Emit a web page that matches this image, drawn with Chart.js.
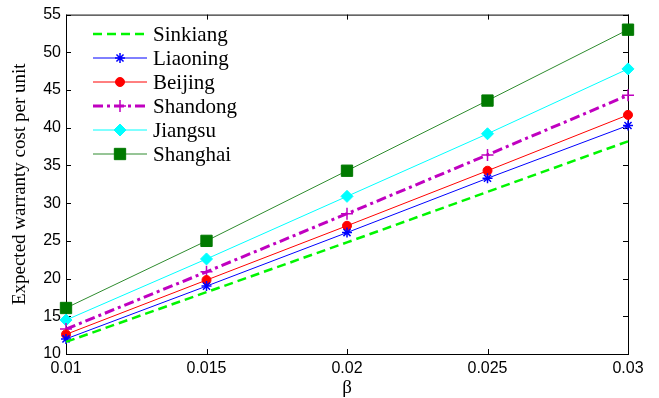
<!DOCTYPE html>
<html>
<head>
<meta charset="utf-8">
<script src="https://cdn.jsdelivr.net/npm/chart.js@4/dist/chart.umd.min.js"></script>
<style>
  body { margin: 0; background: #fff; }
  canvas { display: block; }
</style>
</head>
<body>
<canvas id="chart" width="659" height="398"></canvas>
<script>
const beta = [0.01, 0.015, 0.02, 0.025, 0.03];
const xTicks = [0.01, 0.015, 0.02, 0.025, 0.03];
const yTicks = [10, 15, 20, 25, 30, 35, 40, 45, 50, 55];

const sinkiang = [11.6, 18.2, 24.8, 31.5, 38.2];
const liaoning = [12.0, 19.0, 26.1, 33.3, 40.3];
const beijing  = [12.6, 19.8, 27.0, 34.3, 41.7];
const shandong = [13.3, 20.9, 28.6, 36.4, 44.3];
const jiangsu  = [14.5, 22.6, 30.9, 39.2, 47.8];
const shanghai = [16.1, 25.0, 34.3, 43.6, 53.0];

const serif = '"Liberation Serif", "Times New Roman", serif';
const sans = '"Liberation Sans", Arial, sans-serif';

const toPoints = arr => arr.map((v, i) => ({ x: beta[i], y: v }));

const series = [
    { label: 'Sinkiang', data: sinkiang, color: '#00f500', width: 2.5, dash: [9, 5], style: false, radius: 0, pointColor: '#00f500' },
    { label: 'Liaoning', data: liaoning, color: '#0000ff', width: 1, dash: [], style: 'star', radius: 5, pointColor: '#0000ff' },
    { label: 'Beijing', data: beijing, color: '#ff0000', width: 1, dash: [], style: 'circle', radius: 4.5, pointColor: '#ff0000' },
    { label: 'Shandong', data: shandong, color: '#c000c0', width: 3, dash: [10, 4, 3, 4], style: 'cross', radius: 6, pointColor: '#c000c0' },
    { label: 'Jiangsu', data: jiangsu, color: '#00ffff', width: 1, dash: [], style: 'rectRot', radius: 6, pointColor: '#00ffff' },
    { label: 'Shanghai', data: shanghai, color: '#2e8b2e', width: 1, dash: [], style: 'rect', radius: 8, pointColor: '#007a00' },
];

const datasets = series.map(s => ({
    label: s.label,
    data: toPoints(s.data),
    borderColor: s.color,
    borderWidth: s.width,
    borderDash: s.dash,
    pointStyle: s.style,
    pointRadius: s.radius,
    pointBackgroundColor: s.pointColor,
    pointBorderColor: s.pointColor,
    pointBorderWidth: s.style === 'cross' || s.style === 'star' ? 1.5 : 1,
    tension: 0,
    fill: false,
    clip: false,
}));

// MATLAB-like box with inward ticks
const framePlugin = {
    id: 'frame',
    beforeDatasetsDraw(chart) {
        const { ctx, chartArea: a, scales } = chart;
        ctx.save();
        ctx.strokeStyle = '#000';
        ctx.lineWidth = 1;
        ctx.strokeRect(a.left + 0.5, a.top + 0.5, a.right - a.left, a.bottom - a.top);
        ctx.beginPath();
        yTicks.forEach(v => {
            const y = Math.round(scales.y.getPixelForValue(v)) + 0.5;
            ctx.moveTo(a.left, y); ctx.lineTo(a.left + 5, y);
            ctx.moveTo(a.right, y); ctx.lineTo(a.right - 5, y);
        });
        xTicks.forEach(v => {
            const x = Math.round(scales.x.getPixelForValue(v)) + 0.5;
            ctx.moveTo(x, a.bottom); ctx.lineTo(x, a.bottom - 5);
            ctx.moveTo(x, a.top); ctx.lineTo(x, a.top + 5);
        });
        ctx.stroke();
        ctx.restore();
    }
};

// legend inside the plot, line sample + marker + name
const legendPlugin = {
    id: 'insideLegend',
    afterDatasetsDraw(chart) {
        const { ctx } = chart;
        ctx.save();
        ctx.font = '21px ' + serif;
        ctx.textBaseline = 'middle';
        ctx.fillStyle = '#000';
        chart.data.datasets.forEach((ds, i) => {
            const y = 34 + i * 24;
            ctx.save();
            ctx.strokeStyle = ds.borderColor;
            ctx.lineWidth = ds.borderWidth;
            ctx.setLineDash(ds.borderDash);
            ctx.beginPath();
            ctx.moveTo(93, y); ctx.lineTo(147, y);
            ctx.stroke();
            ctx.restore();
            if (ds.pointStyle) {
                ctx.save();
                ctx.fillStyle = ds.pointBackgroundColor;
                ctx.strokeStyle = ds.pointBorderColor;
                ctx.lineWidth = ds.pointBorderWidth;
                Chart.helpers.drawPoint(ctx, { pointStyle: ds.pointStyle, radius: ds.pointRadius, rotation: 0, borderWidth: ds.pointBorderWidth }, 120, y);
                ctx.restore();
            }
            ctx.fillText(ds.label, 153, y + 1);
        });
        ctx.restore();
    }
};

new Chart(document.getElementById('chart'), {
    type: 'line',
    data: { datasets },
    options: {
        responsive: false,
        animation: false,
        layout: { padding: { top: 12, right: 31, left: 0, bottom: 0 } },
        plugins: { legend: { display: false }, tooltip: { enabled: false } },
        scales: {
            x: {
                type: 'linear',
                min: 0.01,
                max: 0.03,
                grid: { display: false, drawTicks: false },
                border: { display: false },
                afterFit: s => { s.height = 44; },
                afterBuildTicks: s => { s.ticks = xTicks.map(v => ({ value: v })); },
                ticks: {
                    color: '#000',
                    font: { family: sans, size: 16 },
                    padding: 5,
                    maxRotation: 0,
                    callback: v => String(Number(v.toFixed(3))),
                },
                title: { display: true, text: 'β', color: '#000', font: { family: serif, size: 19, lineHeight: 1 }, padding: { top: 0, bottom: 0 } },
            },
            y: {
                min: 10,
                max: 55,
                grid: { display: false, drawTicks: false },
                border: { display: false },
                afterFit: s => { s.width = 66; },
                afterBuildTicks: s => { s.ticks = yTicks.map(v => ({ value: v })); },
                ticks: {
                    color: '#000',
                    font: { family: sans, size: 16 },
                    padding: 5,
                },
                title: { display: true, text: 'Expected warranty cost per unit', color: '#000', font: { family: serif, size: 19 }, padding: { top: 9, bottom: 0 } },
            },
        },
    },
    plugins: [framePlugin, legendPlugin],
});
</script>
</body>
</html>
